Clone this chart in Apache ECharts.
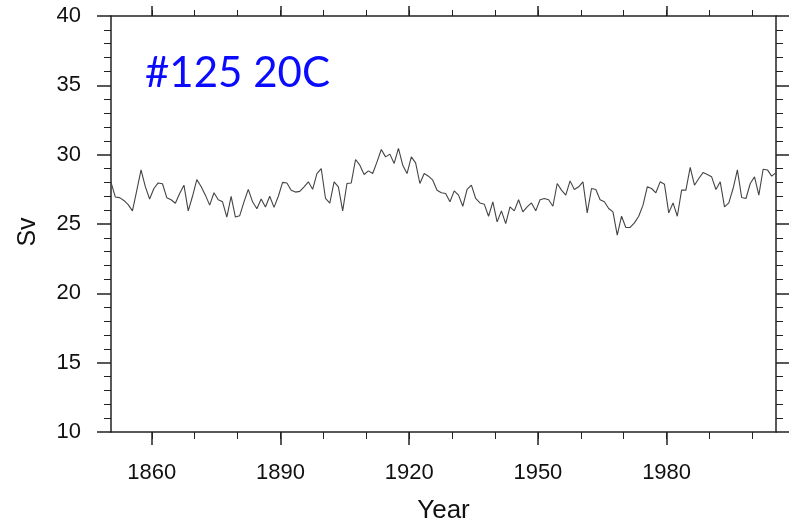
<!DOCTYPE html>
<html>
<head>
<meta charset="utf-8">
<title>#125 20C transport</title>
<script src="https://cdn.jsdelivr.net/npm/echarts@6/dist/echarts.min.js"></script>
<style>
  html, body { margin: 0; padding: 0; background: #ffffff; }
  #chart { width: 789px; height: 521px; }
</style>
</head>
<body>
<div id="chart"></div>
<script>
// Annual mean transport (Sv), 1850-2005
const firstYear = 1850;
const lastYear = 2005;
const transportSv = [
  28.00, 26.95, 26.90, 26.70, 26.40, 25.95, 27.40, 28.90, 27.70, 26.80,
  27.56, 27.96, 27.90, 26.90, 26.75, 26.50, 27.20, 27.80, 25.95, 27.00,
  28.20, 27.70, 27.08, 26.36, 27.25, 26.75, 26.60, 25.50, 27.00, 25.50,
  25.60, 26.60, 27.50, 26.60, 26.10, 26.80, 26.23, 27.00, 26.20, 27.00,
  28.00, 27.96, 27.44, 27.30, 27.35, 27.68, 28.04, 27.50, 28.64, 29.00,
  26.84, 26.50, 28.04, 27.68, 25.95, 27.92, 27.96, 29.65, 29.24, 28.57,
  28.83, 28.64, 29.48, 30.37, 29.84, 30.04, 29.37, 30.45, 29.24, 28.64,
  29.84, 29.41, 27.92, 28.64, 28.45, 28.16, 27.44, 27.25, 27.20, 26.60,
  27.39, 27.08, 26.28, 27.49, 27.80, 26.84, 26.52, 26.43, 25.56, 26.60,
  25.15, 25.95, 25.03, 26.23, 25.95, 26.75, 25.87, 26.23, 26.52, 25.95,
  26.75, 26.84, 26.75, 26.28, 27.92, 27.44, 27.08, 28.11, 27.49, 27.68,
  28.04, 25.80, 27.56, 27.49, 26.75, 26.60, 26.12, 25.87, 24.20, 25.56,
  24.75, 24.75, 25.08, 25.56, 26.36, 27.68, 27.56, 27.25, 28.04, 27.87,
  25.80, 26.52, 25.56, 27.44, 27.44, 29.08, 27.80, 28.28, 28.71, 28.57,
  28.40, 27.49, 28.04, 26.23, 26.52, 27.56, 28.90, 26.91, 26.84, 27.92,
  28.40, 27.08, 28.95, 28.90, 28.45, 28.70
];

const yearLabels = [1860, 1890, 1920, 1950, 1980];
const yearMinorTicks = [1860, 1870, 1880, 1890, 1900, 1910, 1920, 1930, 1940, 1950, 1960, 1970, 1980, 1990, 2000];
const svTicks = { min: 10, max: 40, step: 5 };

const years = [];
for (let y = firstYear; y <= lastYear; y++) years.push(y);

// annual means sit at mid-year
const points = years.map((y, i) => [y + 0.5, transportSv[i]]);
const xMin = firstYear + 0.5;
const xMax = lastYear + 0.5;

const axisColor = '#222222';
const labelFont = 'Liberation Sans, Arial, Helvetica, sans-serif';

function xAxisDef(position, ticks, tickLen, withLine, withLabels) {
  return {
    type: 'value',
    position: position,
    min: xMin,
    max: xMax,
    splitLine: { show: false },
    axisLine: { show: withLine, onZero: false, lineStyle: { color: axisColor, width: 1.5 } },
    axisTick: { show: true, inside: false, length: tickLen, customValues: ticks,
                lineStyle: { color: axisColor, width: tickLen > 8 ? 1.5 : 1 } },
    axisLabel: withLabels
      ? { show: true, customValues: yearLabels, margin: 30, color: '#111',
          fontFamily: labelFont, fontSize: 22, formatter: v => String(Math.round(v)) }
      : { show: false }
  };
}

function yAxisDef(position, withLabels) {
  return {
    type: 'value',
    position: position,
    min: svTicks.min,
    max: svTicks.max,
    interval: svTicks.step,
    splitLine: { show: false },
    minorSplitLine: { show: false },
    axisLine: { show: true, onZero: false, lineStyle: { color: axisColor, width: 1.5 } },
    axisTick: { show: true, inside: false, length: 14, lineStyle: { color: axisColor, width: 1.5 } },
    minorTick: { show: true, splitNumber: 5, length: 7, lineStyle: { color: axisColor, width: 1 } },
    axisLabel: withLabels
      ? { show: true, margin: 30, color: '#111', fontFamily: labelFont, fontSize: 22 }
      : { show: false }
  };
}

const chart = echarts.init(document.getElementById('chart'), null, { renderer: 'canvas' });

chart.setOption({
  animation: false,
  backgroundColor: '#ffffff',
  grid: { left: 111, right: 13, top: 16, bottom: 89, containLabel: false, outerBoundsMode: 'none' },
  xAxis: [
    Object.assign(xAxisDef('bottom', yearLabels, 13, true, true), {
      name: 'Year', nameLocation: 'middle', nameGap: 66,
      nameTextStyle: { color: '#111', fontFamily: labelFont, fontSize: 26 }
    }),
    xAxisDef('bottom', yearMinorTicks, 7, false, false),
    xAxisDef('top', yearLabels, 10, true, false),
    xAxisDef('top', yearMinorTicks, 6, false, false)
  ],
  yAxis: [
    yAxisDef('left', true),
    yAxisDef('right', false)
  ],
  graphic: [
    {
      type: 'text',
      left: 145, top: 52,
      style: { text: '#125 20C', fill: '#0a0aff', font: '42px Lato, "Open Sans", sans-serif' }
    },
    {
      type: 'text',
      x: 28, y: 232,
      rotation: Math.PI / 2,
      style: { text: 'Sv', fill: '#111', font: '25px "Liberation Sans", Arial, sans-serif',
               align: 'center', verticalAlign: 'middle' }
    }
  ],
  series: [
    {
      type: 'line',
      xAxisIndex: 0,
      yAxisIndex: 0,
      data: points,
      showSymbol: false,
      smooth: false,
      lineStyle: { color: '#444444', width: 1.1 }
    }
  ]
});
</script>
</body>
</html>
